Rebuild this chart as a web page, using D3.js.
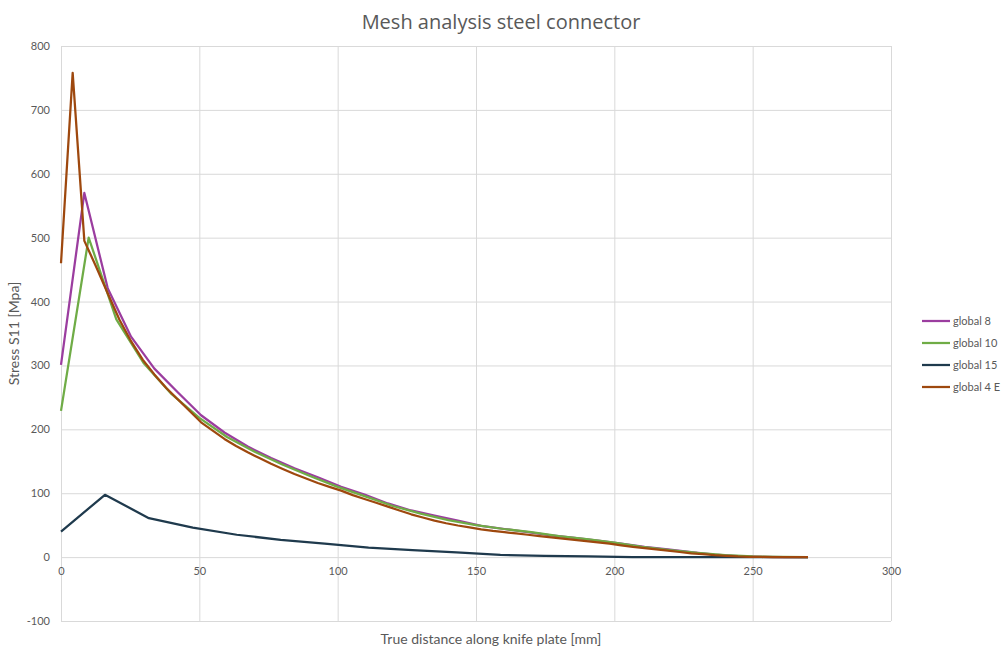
<!DOCTYPE html>
<html>
<head>
<meta charset="utf-8">
<script src="https://cdn.jsdelivr.net/npm/d3@7"></script>
<style>
  html, body { margin: 0; padding: 0; background: #fff; }
  svg { display: block; font-family: Lato, "Open Sans", sans-serif; }
</style>
</head>
<body>
<svg id="chart" width="1003" height="651"></svg>
<script>
// Stress S11 [MPa] along the knife plate for four mesh sizes
const seriesNames = ["global 8", "global 10", "global 15", "global 4 E"];
const seriesColors = ["#9b3d9f", "#6fac46", "#1f3a4d", "#9e480e"];

// sample spacing (mm) of each mesh
const steps = [8.4375, 10, 15.882, 4.21875];

const global8 = [301, 570, 421, 345, 295, 258, 222, 195, 173, 155, 139, 125, 110, 98, 84, 73,
  65, 57, 49, 44, 39, 34, 30, 26, 21, 16, 12, 8, 4, 1.5, 0.5, 0, 0];
const global10 = [229, 500, 372, 303, 255, 218, 188, 165, 145, 127, 110, 95, 80, 68, 58, 50,
  44, 39, 33, 28, 22.5, 16, 11, 6.5, 3, 1, 0.3, 0];
const global15 = [40, 97.5, 61, 46, 35, 27, 21, 15, 11, 7.5, 3.5, 2, 1, 0, 0, 0, 0, 0];
const global4E = [460, 758, 495, 455, 413, 372, 338, 309, 286, 265, 247, 229, 211, 198, 185, 174,
  164, 155, 146, 138, 130, 123, 116, 110, 104, 97, 91, 85, 79, 73, 67, 62,
  57, 53, 49.5, 46.5, 43.5, 41, 39, 37, 35, 33, 31, 29, 27, 25, 23, 21,
  18.5, 16, 14, 12, 10, 8, 6, 4.5, 3, 2, 1, 0.5, 0.2, 0, 0, 0, 0];

const seriesValues = [global8, global10, global15, global4E];

const xTicks = [0, 50, 100, 150, 200, 250, 300];
const yTicks = [-100, 0, 100, 200, 300, 400, 500, 600, 700, 800];

const svg = d3.select("#chart");
const plot = { left: 61, right: 891, top: 46, bottom: 621 };

const x = d3.scaleLinear().domain([0, 300]).range([plot.left, plot.right]);
const y = d3.scaleLinear().domain([-100, 800]).range([plot.bottom, plot.top]);

const textColor = "#595959";
const gridColor = "#d9d9d9";
const plainNumber = d => String(d);

// gridlines
svg.append("g")
  .attr("transform", `translate(0,${plot.bottom})`)
  .call(d3.axisBottom(x).tickValues(xTicks).tickSize(-(plot.bottom - plot.top)).tickFormat(""))
  .call(g => g.select(".domain").remove())
  .call(g => g.selectAll("line").attr("stroke", gridColor).attr("stroke-width", 1));

svg.append("g")
  .attr("transform", `translate(${plot.left},0)`)
  .call(d3.axisLeft(y).tickValues(yTicks).tickSize(-(plot.right - plot.left)).tickFormat(""))
  .call(g => g.select(".domain").remove())
  .call(g => g.selectAll("line").attr("stroke", gridColor).attr("stroke-width", 1));

// y tick labels
svg.append("g")
  .attr("transform", `translate(${plot.left},0)`)
  .call(d3.axisLeft(y).tickValues(yTicks).tickSize(0).tickPadding(11).tickFormat(plainNumber))
  .call(g => g.select(".domain").remove())
  .call(g => g.selectAll("text").attr("fill", textColor).attr("font-size", 11)
    .attr("font-family", "Lato, sans-serif"));

// x tick labels sit under the zero line
svg.append("g")
  .attr("transform", `translate(0,${y(0)})`)
  .call(d3.axisBottom(x).tickValues(xTicks).tickSize(0).tickPadding(10).tickFormat(plainNumber))
  .call(g => g.select(".domain").remove())
  .call(g => g.selectAll("text").attr("fill", textColor).attr("font-size", 11)
    .attr("font-family", "Lato, sans-serif"));

// series lines
const line = d3.line().x(d => x(d[0])).y(d => y(d[1]));
seriesValues.forEach((vals, i) => {
  const pts = vals.map((v, k) => [k * steps[i], v]);
  svg.append("path")
    .datum(pts)
    .attr("fill", "none")
    .attr("stroke", seriesColors[i])
    .attr("stroke-width", 2.25)
    .attr("stroke-linejoin", "round")
    .attr("d", line);
});

// title
svg.append("text")
  .attr("x", 501).attr("y", 29)
  .attr("text-anchor", "middle")
  .attr("fill", textColor)
  .attr("font-family", "\"Open Sans\", sans-serif")
  .attr("font-size", 20)
  .text("Mesh analysis steel connector");

// axis titles
svg.append("text")
  .attr("x", 491).attr("y", 644)
  .attr("text-anchor", "middle")
  .attr("fill", textColor)
  .attr("font-size", 14)
  .text("True distance along knife plate [mm]");

svg.append("text")
  .attr("transform", `translate(19,${(plot.top + plot.bottom) / 2}) rotate(-90)`)
  .attr("text-anchor", "middle")
  .attr("fill", textColor)
  .attr("font-size", 14)
  .text("Stress S11 [Mpa]");

// legend
const legend = svg.append("g").attr("transform", "translate(922,321)");
seriesNames.forEach((name, i) => {
  const g = legend.append("g").attr("transform", `translate(0,${i * 22})`);
  g.append("line").attr("x1", 0).attr("x2", 28).attr("y1", 0).attr("y2", 0)
    .attr("stroke", seriesColors[i]).attr("stroke-width", 2.25);
  g.append("text").attr("x", 31).attr("y", 4)
    .attr("fill", textColor).attr("font-size", 11)
    .text(name);
});
</script>
</body>
</html>
